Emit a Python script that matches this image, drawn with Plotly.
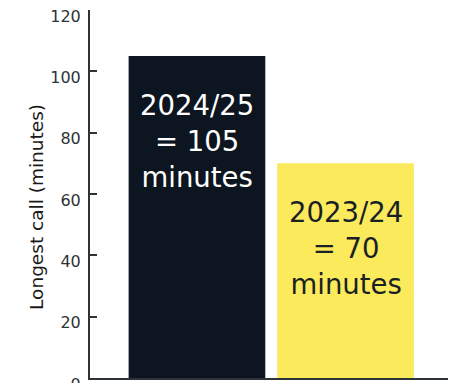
import plotly.graph_objects as go

# Longest call durations per reporting year
seasons = ["2024/25", "2023/24"]
longest_minutes = [105, 70]
bar_colors = ["#0d1520", "#fbea5b"]
label_colors = ["#ffffff", "#1a1f26"]
y_ticks = [0, 20, 40, 60, 80, 100, 120]
y_title = "Longest call (minutes)"

FONT = "DejaVu Sans"
AXIS = "#2e3338"

fig = go.Figure(
    go.Bar(
        x=[0, 1],
        y=longest_minutes,
        width=0.92,
        marker=dict(color=bar_colors, line=dict(width=0)),
        hoverinfo="skip",
    )
)

# value labels inside each bar, hanging from the bar top
for i, (season, minutes) in enumerate(zip(seasons, longest_minutes)):
    fig.add_annotation(
        x=i, y=minutes, xref="x", yref="y",
        text=f"{season}<br>= {minutes}<br>minutes",
        showarrow=False, yanchor="top", yshift=-31,
        font=dict(family=FONT, size=27.5, color=label_colors[i]),
        align="center",
    )

# vertical axis title, set slightly below the axis midpoint
fig.add_annotation(
    x=-0.148, y=0.465, xref="paper", yref="paper",
    text=y_title, textangle=-90, showarrow=False,
    xanchor="center", yanchor="middle",
    font=dict(family=FONT, size=18.5, color="#1a1a1a"),
)

fig.update_layout(
    width=450, height=383,
    margin=dict(l=90, r=2, t=10, b=5, autoexpand=False),
    paper_bgcolor="white", plot_bgcolor="white",
    showlegend=False,
    font=dict(family=FONT, color=AXIS),
    xaxis=dict(
        range=[-0.72, 1.69],
        automargin=False,
        showgrid=False, zeroline=False,
        showline=True, linecolor=AXIS, linewidth=2,
        tickvals=[1.69], ticktext=[""],
        ticks="inside", ticklen=7, tickwidth=2, tickcolor=AXIS,
    ),
    yaxis=dict(
        range=[0, 120],
        automargin=False,
        tickvals=y_ticks,
        showgrid=False, zeroline=False,
        showline=True, linecolor=AXIS, linewidth=2,
        ticks="inside", ticklen=7, tickwidth=2, tickcolor=AXIS,
        tickfont=dict(family=FONT, size=16, color=AXIS),
        ticklabeloverflow="allow",
        ticklabelshift=6,
        ticklabelstandoff=4,
    ),
)

fig.write_html("out.html")
